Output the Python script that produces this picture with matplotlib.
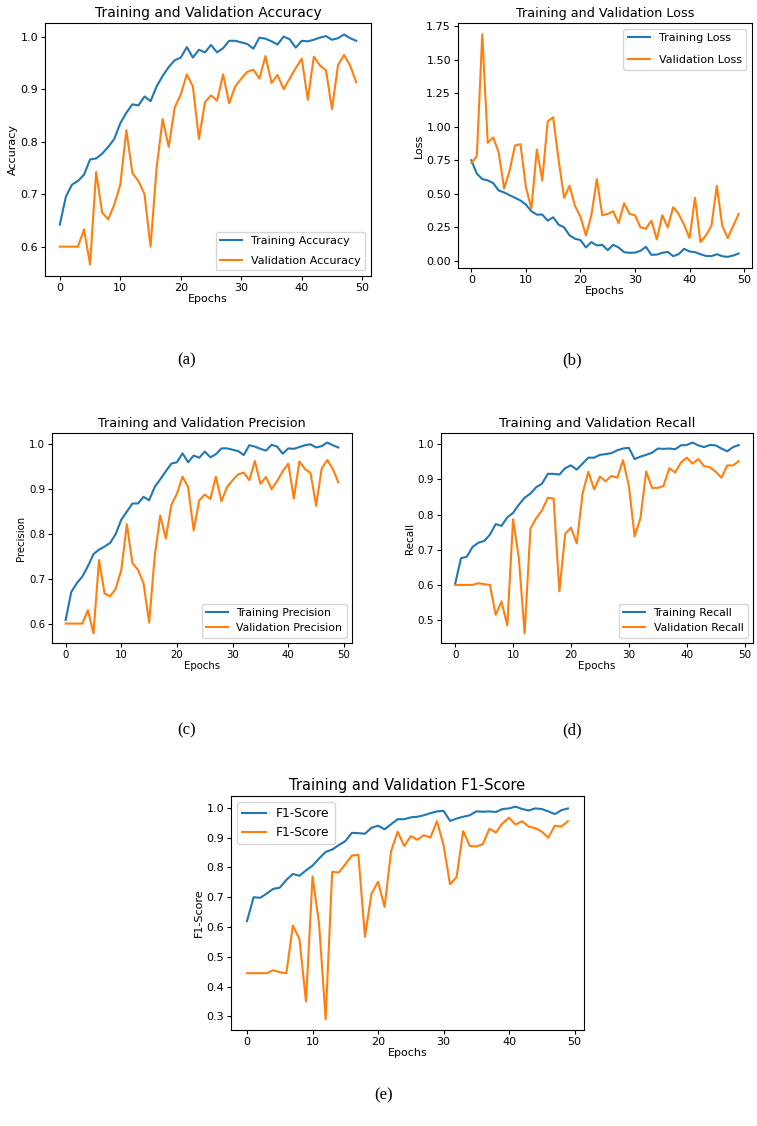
import numpy as np
import matplotlib
matplotlib.use('Agg')
import matplotlib.pyplot as plt

# ──────────────────────────────────────────────────────────────
# Data, epochs 0..49
# ──────────────────────────────────────────────────────────────
epochs = np.arange(50)

train_acc = [0.642, 0.695, 0.718, 0.725, 0.737, 0.766, 0.768, 0.777, 0.790, 0.805,
             0.835, 0.855, 0.871, 0.869, 0.886, 0.877, 0.905, 0.925, 0.942, 0.955,
             0.960, 0.980, 0.960, 0.975, 0.970, 0.984, 0.970, 0.978, 0.992, 0.992,
             0.989, 0.986, 0.977, 0.998, 0.996, 0.991, 0.985, 1.000, 0.995, 0.979,
             0.992, 0.991, 0.994, 0.998, 1.001, 0.994, 0.997, 1.004, 0.997, 0.992]
val_acc = [0.600, 0.600, 0.600, 0.600, 0.633, 0.566, 0.742, 0.665, 0.652, 0.680,
           0.718, 0.822, 0.740, 0.725, 0.700, 0.600, 0.750, 0.843, 0.790, 0.865,
           0.890, 0.928, 0.905, 0.805, 0.875, 0.888, 0.878, 0.928, 0.873, 0.905,
           0.920, 0.933, 0.937, 0.920, 0.963, 0.912, 0.927, 0.900, 0.920, 0.940,
           0.958, 0.880, 0.962, 0.945, 0.936, 0.862, 0.946, 0.965, 0.945, 0.913]

train_loss = [0.75, 0.65, 0.61, 0.60, 0.58, 0.525, 0.51, 0.49, 0.47, 0.45,
              0.42, 0.37, 0.345, 0.345, 0.30, 0.325, 0.27, 0.25, 0.19, 0.165,
              0.155, 0.10, 0.14, 0.115, 0.12, 0.08, 0.12, 0.10, 0.065, 0.06,
              0.062, 0.075, 0.105, 0.045, 0.047, 0.06, 0.067, 0.035, 0.05, 0.09,
              0.07, 0.065, 0.05, 0.037, 0.035, 0.05, 0.035, 0.03, 0.04, 0.055]
val_loss = [0.73, 0.78, 1.69, 0.88, 0.92, 0.81, 0.54, 0.67, 0.86, 0.87,
            0.55, 0.39, 0.83, 0.60, 1.04, 1.07, 0.75, 0.47, 0.56, 0.41,
            0.33, 0.19, 0.34, 0.61, 0.34, 0.35, 0.37, 0.28, 0.43, 0.35,
            0.34, 0.25, 0.24, 0.30, 0.16, 0.34, 0.25, 0.40, 0.35, 0.27,
            0.17, 0.47, 0.14, 0.19, 0.26, 0.56, 0.26, 0.17, 0.26, 0.35]

train_prec = [0.608, 0.670, 0.690, 0.705, 0.728, 0.755, 0.765, 0.772, 0.780, 0.800,
              0.832, 0.850, 0.868, 0.868, 0.883, 0.875, 0.905, 0.922, 0.940, 0.957,
              0.960, 0.980, 0.960, 0.975, 0.970, 0.984, 0.971, 0.978, 0.991, 0.991,
              0.988, 0.985, 0.976, 0.998, 0.995, 0.990, 0.986, 0.999, 0.995, 0.979,
              0.991, 0.990, 0.994, 0.998, 1.000, 0.993, 0.996, 1.004, 0.998, 0.993]
val_prec = [0.600, 0.600, 0.600, 0.600, 0.630, 0.578, 0.742, 0.667, 0.661, 0.678,
            0.720, 0.822, 0.735, 0.720, 0.690, 0.602, 0.750, 0.841, 0.790, 0.865,
            0.890, 0.928, 0.905, 0.808, 0.875, 0.888, 0.878, 0.928, 0.873, 0.905,
            0.920, 0.933, 0.937, 0.920, 0.963, 0.912, 0.927, 0.900, 0.918, 0.940,
            0.957, 0.879, 0.962, 0.945, 0.936, 0.863, 0.946, 0.965, 0.945, 0.915]

train_rec = [0.603, 0.676, 0.680, 0.708, 0.720, 0.725, 0.743, 0.773, 0.768, 0.792,
             0.805, 0.828, 0.848, 0.860, 0.878, 0.888, 0.916, 0.916, 0.914, 0.932,
             0.940, 0.928, 0.945, 0.962, 0.962, 0.970, 0.972, 0.975, 0.983, 0.988,
             0.990, 0.958, 0.965, 0.970, 0.976, 0.988, 0.987, 0.988, 0.986, 0.997,
             0.998, 1.005, 0.997, 0.992, 0.998, 0.997, 0.988, 0.980, 0.992, 0.998]
val_rec = [0.600, 0.600, 0.600, 0.600, 0.605, 0.602, 0.600, 0.515, 0.553, 0.485,
           0.787, 0.675, 0.462, 0.760, 0.790, 0.812, 0.848, 0.846, 0.582, 0.745,
           0.763, 0.718, 0.860, 0.922, 0.872, 0.908, 0.895, 0.910, 0.905, 0.955,
           0.882, 0.738, 0.790, 0.923, 0.876, 0.876, 0.882, 0.932, 0.920, 0.948,
           0.962, 0.945, 0.958, 0.938, 0.935, 0.922, 0.905, 0.940, 0.940, 0.952]

train_f1 = [0.620, 0.700, 0.698, 0.712, 0.728, 0.732, 0.758, 0.778, 0.772, 0.790,
            0.806, 0.830, 0.852, 0.860, 0.875, 0.888, 0.916, 0.915, 0.913, 0.933,
            0.940, 0.928, 0.945, 0.962, 0.962, 0.968, 0.970, 0.975, 0.982, 0.988,
            0.990, 0.956, 0.964, 0.970, 0.975, 0.988, 0.987, 0.988, 0.986, 0.996,
            0.998, 1.004, 0.996, 0.991, 0.998, 0.996, 0.988, 0.979, 0.992, 0.998]
val_f1 = [0.445, 0.445, 0.445, 0.445, 0.455, 0.448, 0.445, 0.605, 0.560, 0.350,
          0.770, 0.610, 0.290, 0.785, 0.783, 0.810, 0.840, 0.842, 0.567, 0.712,
          0.752, 0.667, 0.855, 0.920, 0.872, 0.905, 0.893, 0.908, 0.900, 0.955,
          0.875, 0.743, 0.768, 0.922, 0.872, 0.870, 0.878, 0.930, 0.917, 0.948,
          0.967, 0.944, 0.955, 0.937, 0.932, 0.920, 0.900, 0.940, 0.937, 0.955]

W, H = 757, 1126


def add_axes_px(fig, left, top, right, bottom):
    """Axes from pixel box (origin at top-left)."""
    return fig.add_axes([left / W, 1 - bottom / H, (right - left) / W, (bottom - top) / H])


def plot_panel(ax, tr, va, title, ylabel, labels, loc, fs=7.5, tfs=9.5, lfs=None, lsp=0.5):
    ax.plot(epochs, tr, color='#1f77b4', linewidth=1.5, label=labels[0])
    ax.plot(epochs, va, color='#ff7f0e', linewidth=1.5, label=labels[1])
    ax.set_title(title, fontsize=tfs, pad=4)
    ax.set_xlabel('Epochs', fontsize=fs, labelpad=1)
    ax.set_ylabel(ylabel, fontsize=fs, labelpad=2)
    ax.set_xticks([0, 10, 20, 30, 40, 50])
    ax.tick_params(labelsize=fs, length=3, pad=2)
    ax.legend(loc=loc, fontsize=lfs or fs, labelspacing=lsp)


fig = plt.figure(figsize=(W / 100, H / 100), dpi=100)

ax_a = add_axes_px(fig, 45, 23, 371, 276)
plot_panel(ax_a, train_acc, val_acc, 'Training and Validation Accuracy', 'Accuracy',
           ['Training Accuracy', 'Validation Accuracy'], 'lower right',
           fs=8, tfs=10, lfs=8, lsp=0.9)

ax_b = add_axes_px(fig, 458, 23, 752, 268)
plot_panel(ax_b, train_loss, val_loss, 'Training and Validation Loss', 'Loss',
           ['Training Loss', 'Validation Loss'], 'upper right',
           fs=8, tfs=9.2, lfs=8, lsp=1.1)
ax_b.set_yticks([0, 0.25, 0.5, 0.75, 1.0, 1.25, 1.5, 1.75])

ax_c = add_axes_px(fig, 52, 433, 352, 643)
plot_panel(ax_c, train_prec, val_prec, 'Training and Validation Precision', 'Precision',
           ['Training Precision', 'Validation Precision'], 'lower right',
           fs=7.3, tfs=9.2, lfs=7.8)

ax_d = add_axes_px(fig, 441, 433, 753, 643)
plot_panel(ax_d, train_rec, val_rec, 'Training and Validation Recall', 'Recall',
           ['Training Recall', 'Validation Recall'], 'lower right',
           fs=7.5, tfs=9.5, lfs=7.8)

ax_e = add_axes_px(fig, 231, 796, 584, 1030)
plot_panel(ax_e, train_f1, val_f1, 'Training and Validation F1-Score', 'F1-Score',
           ['F1-Score', 'F1-Score'], 'upper left',
           fs=8, tfs=10.5, lfs=8.8)

# panel captions
for lbl, x, y in [('(a)', 187, 360), ('(b)', 572, 360), ('(c)', 187, 730),
                  ('(d)', 572, 730), ('(e)', 384, 1095)]:
    fig.text(x / W, 1 - y / H, lbl, ha='center', va='center',
             fontsize=12, family='Liberation Serif')

fig.savefig('out.png', dpi=100)
